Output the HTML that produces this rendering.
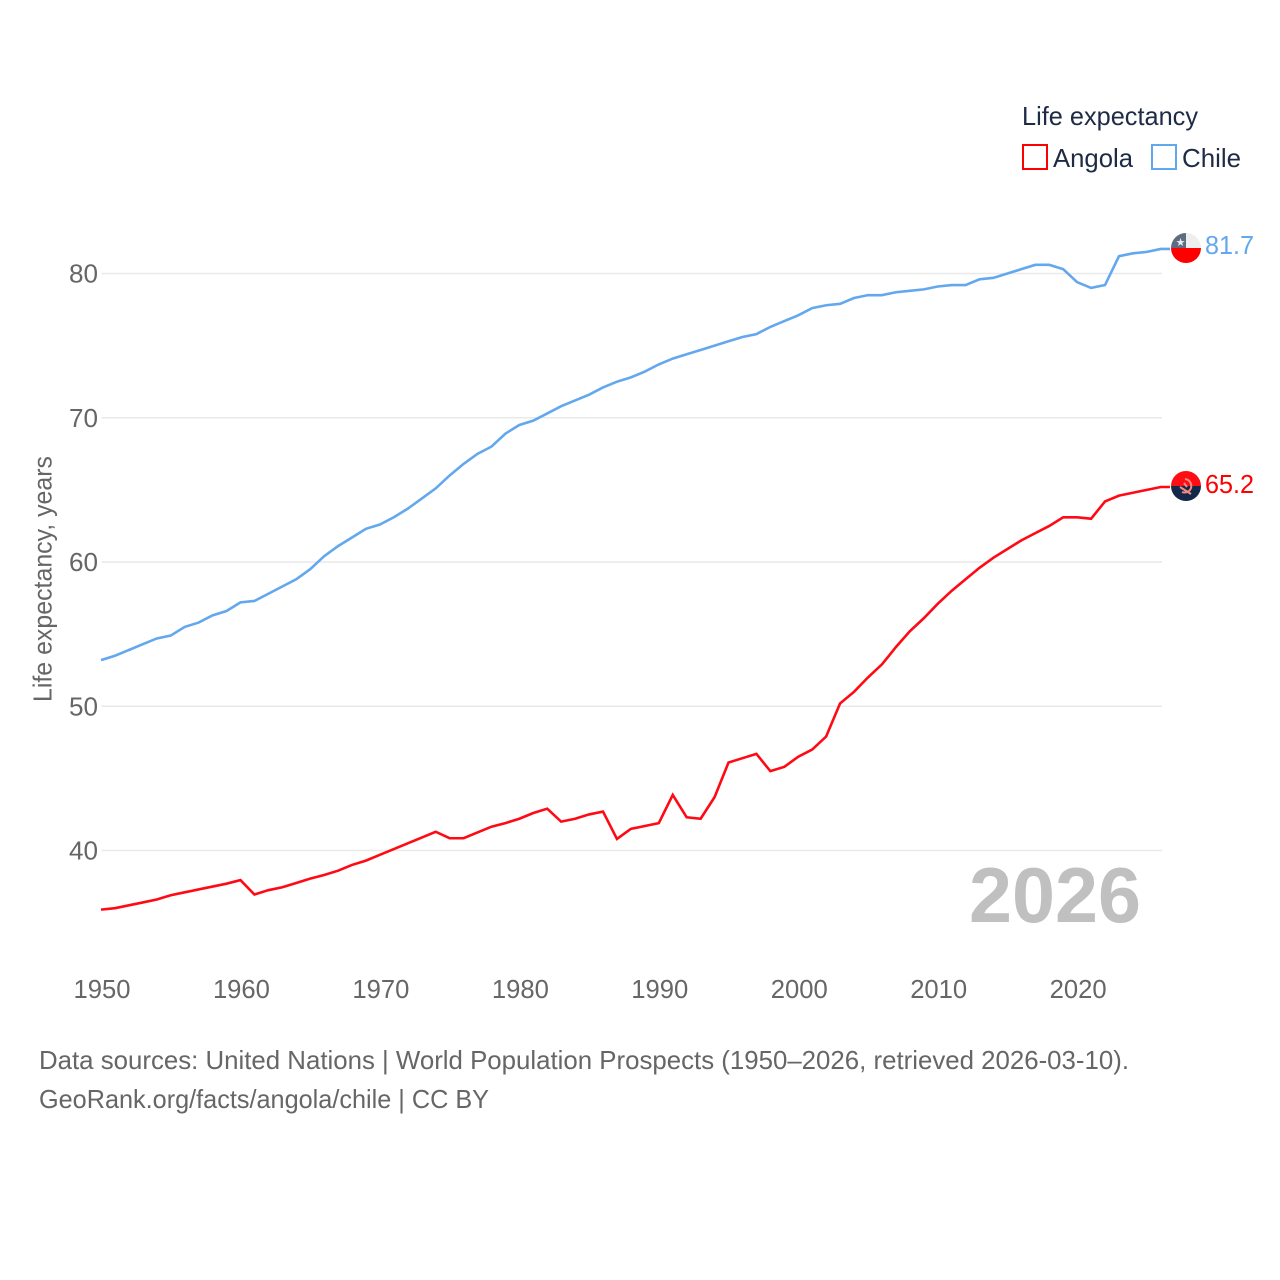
<!DOCTYPE html>
<html lang="en">
<head>
<meta charset="utf-8">
<title>Life expectancy: Angola and Chile</title>
<style>
html,body{margin:0;padding:0;background:#fff;width:1280px;height:1280px;overflow:hidden}
svg{display:block;font-family:"Liberation Sans",sans-serif}
</style>
</head>
<body>
<svg id="chart" xmlns="http://www.w3.org/2000/svg" width="1280" height="1280" viewBox="0 0 1280 1280">
  <defs>
    <clipPath id="flag-clip-chile"><circle cx="1186" cy="248" r="15"></circle></clipPath>
    <clipPath id="flag-clip-angola"><circle cx="1186" cy="486" r="15"></circle></clipPath>
  </defs>
  <g id="grid"></g>
  <g id="yticks"></g>
  <g id="xticks"></g>
  <text transform="translate(51.5,579) rotate(-90)" text-anchor="middle" font-size="26" fill="#666" textLength="246" lengthAdjust="spacingAndGlyphs">Life expectancy, years</text>
  <text x="969" y="922" font-size="78" font-weight="700" fill="#c0c0c0" textLength="172" lengthAdjust="spacingAndGlyphs">2026</text>
  <g id="series"></g>

  <g clip-path="url(#flag-clip-chile)">
    <rect x="1171" y="233" width="30" height="15" fill="#eeeeee"></rect>
    <rect x="1171" y="233" width="15" height="15" fill="#5f6b7e"></rect>
    <rect x="1171" y="248" width="30" height="15" fill="#ff0000"></rect>
    <text x="1180.5" y="246" font-size="11" fill="#e8eef5" text-anchor="middle">★</text>
  </g>
  <g clip-path="url(#flag-clip-angola)">
    <rect x="1171" y="471" width="30" height="15" fill="#ff0d14"></rect>
    <rect x="1171" y="486" width="30" height="15" fill="#14294a"></rect>
    <path d="M1185 479a7 7 0 0 1 5 11a7 7 0 0 1-8 2M1180 487l11 7M1184 483l3 4" fill="none" stroke="#f58a80" stroke-width="2"></path>
  </g>
  <text x="1205" y="254" font-size="26" fill="#63a8ee" textLength="49" lengthAdjust="spacingAndGlyphs">81.7</text>
  <text x="1205" y="493" font-size="26" fill="#ff0000" textLength="49" lengthAdjust="spacingAndGlyphs">65.2</text>

  <g>
    <text x="1022" y="125" font-size="26" fill="#1d2b45" textLength="176" lengthAdjust="spacingAndGlyphs">Life expectancy</text>
    <rect x="1023" y="145" width="24" height="24" fill="#fff" stroke="#ff0000" stroke-width="2"></rect>
    <text x="1053" y="167" font-size="26" fill="#1d2b45" textLength="80" lengthAdjust="spacingAndGlyphs">Angola</text>
    <rect x="1152" y="145" width="24" height="24" fill="#fff" stroke="#63a8ee" stroke-width="2"></rect>
    <text x="1182" y="167" font-size="26" fill="#1d2b45" textLength="59" lengthAdjust="spacingAndGlyphs">Chile</text>
  </g>

  <text x="39" y="1069" font-size="26" fill="#666" textLength="1090" lengthAdjust="spacingAndGlyphs">Data sources: United Nations | World Population Prospects (1950–2026, retrieved 2026-03-10).</text>
  <text x="39" y="1108" font-size="26" fill="#666" textLength="450" lengthAdjust="spacingAndGlyphs">GeoRank.org/facts/angola/chile | CC BY</text>
</svg>
<script>
const startYear = 1950;
const yTickValues = [40, 50, 60, 70, 80];
const xTickValues = [1950, 1960, 1970, 1980, 1990, 2000, 2010, 2020];
const angolaValues = [35.9,36.0,36.2,36.4,36.6,36.9,37.1,37.3,37.5,37.7,37.95,36.95,37.25,37.45,37.75,38.05,38.3,38.6,39.0,39.3,39.7,40.1,40.5,40.9,41.3,40.85,40.85,41.25,41.65,41.9,42.2,42.6,42.9,42.0,42.2,42.5,42.7,40.8,41.5,41.7,41.9,43.85,42.3,42.2,43.7,46.1,46.4,46.7,45.5,45.8,46.5,47.0,47.9,50.2,51.0,52.0,52.9,54.1,55.2,56.1,57.1,58.0,58.8,59.6,60.3,60.9,61.5,62.0,62.5,63.1,63.1,63.0,64.2,64.6,64.8,65.0,65.2];
const chileValues = [53.2,53.5,53.9,54.3,54.7,54.9,55.5,55.8,56.3,56.6,57.2,57.3,57.8,58.3,58.8,59.5,60.4,61.1,61.7,62.3,62.6,63.1,63.7,64.4,65.1,66.0,66.8,67.5,68.0,68.9,69.5,69.8,70.3,70.8,71.2,71.6,72.1,72.5,72.8,73.2,73.7,74.1,74.4,74.7,75.0,75.3,75.6,75.8,76.3,76.7,77.1,77.6,77.8,77.9,78.3,78.5,78.5,78.7,78.8,78.9,79.1,79.2,79.2,79.6,79.7,80.0,80.3,80.6,80.6,80.3,79.4,79.0,79.2,81.2,81.4,81.5,81.7];

const NS = 'http://www.w3.org/2000/svg';
function xScale(year) { return 101 + (year - 1950) * 13.945; }
function yScale(value) { return 850.5 - (value - 40) * 14.425; }
function svgEl(tag) { return document.createElementNS(NS, tag); }

const gridGroup = document.getElementById('grid');
const yTickGroup = document.getElementById('yticks');
yTickValues.forEach(function (v) {
  const line = svgEl('line');
  
  
  line.setAttribute('x1', 101.5);
  line.setAttribute('x2', 1162);
  line.setAttribute('y1', yScale(v));
  line.setAttribute('y2', yScale(v));
  line.setAttribute('stroke', '#e9e9e9');
  line.setAttribute('stroke-width', '1.5');
  gridGroup.appendChild(line);

  const label = svgEl('text');
  
  
  label.setAttribute('x', 98);
  label.setAttribute('y', yScale(v) + 9);
  label.setAttribute('text-anchor', 'end');
  label.setAttribute('font-size', '26');
  label.setAttribute('fill', '#666');
  label.setAttribute('textLength', '29');
  label.setAttribute('lengthAdjust', 'spacingAndGlyphs');
  label.textContent = String(v);
  yTickGroup.appendChild(label);
});

const xTickGroup = document.getElementById('xticks');
xTickValues.forEach(function (yr) {
  const label = svgEl('text');
  
  
  label.setAttribute('x', xScale(yr) + 1);
  label.setAttribute('y', 998);
  label.setAttribute('text-anchor', 'middle');
  label.setAttribute('font-size', '26');
  label.setAttribute('fill', '#666');
  label.setAttribute('textLength', '57');
  label.setAttribute('lengthAdjust', 'spacingAndGlyphs');
  label.textContent = String(yr);
  xTickGroup.appendChild(label);
});

function linePoints(values) {
  const pts = values.map(function (v, i) {
    return xScale(startYear + i).toFixed(2) + ',' + yScale(v).toFixed(2);
  });
  pts.push('1170,' + yScale(values[values.length - 1]).toFixed(2));
  return pts.join(' ');
}

const seriesGroup = document.getElementById('series');
const chileLine = svgEl('polyline');


chileLine.setAttribute('points', linePoints(chileValues));
chileLine.setAttribute('fill', 'none');
chileLine.setAttribute('stroke', '#63a8ee');
chileLine.setAttribute('stroke-width', '2.6');
seriesGroup.appendChild(chileLine);

const angolaLine = svgEl('polyline');


angolaLine.setAttribute('points', linePoints(angolaValues));
angolaLine.setAttribute('fill', 'none');
angolaLine.setAttribute('stroke', '#ff0a14');
angolaLine.setAttribute('stroke-width', '2.6');
seriesGroup.appendChild(angolaLine);
</script>
</body>
</html>
